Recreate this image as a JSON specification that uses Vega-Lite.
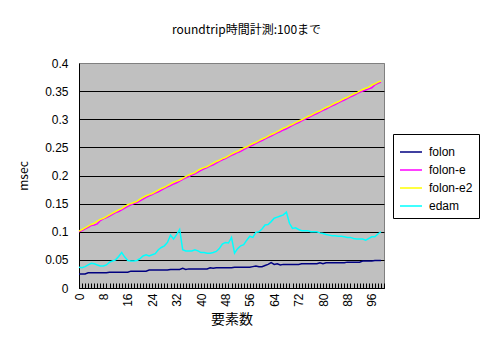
{
"$schema": "https://vega.github.io/schema/vega-lite/v6.json",
"autosize": "none",
"width": 305,
"height": 225,
"padding": {"left": 79, "top": 63, "right": 112, "bottom": 68},
"background": "white",
"config": {"font": "Noto Sans CJK JP", "view": {"fill": "#C0C0C0", "stroke": "#808080"}},
"title": {"text": "roundtrip時間計測:100まで", "fontSize": 12, "fontWeight": "normal", "anchor": "middle", "offset": 20, "dx": 15, "color": "black", "font": "Noto Sans CJK JP"},
"data": {"values": [
{"n":0,"folon":0.025,"folon-e":0.100,"folon-e2":0.101,"edam":0.037},
{"n":1,"folon":0.025,"folon-e":0.102,"folon-e2":0.104,"edam":0.036},
{"n":2,"folon":0.025,"folon-e":0.105,"folon-e2":0.107,"edam":0.038},
{"n":3,"folon":0.027,"folon-e":0.108,"folon-e2":0.110,"edam":0.041},
{"n":4,"folon":0.027,"folon-e":0.111,"folon-e2":0.113,"edam":0.044},
{"n":5,"folon":0.027,"folon-e":0.112,"folon-e2":0.115,"edam":0.043},
{"n":6,"folon":0.027,"folon-e":0.114,"folon-e2":0.119,"edam":0.041},
{"n":7,"folon":0.027,"folon-e":0.120,"folon-e2":0.122,"edam":0.039},
{"n":8,"folon":0.027,"folon-e":0.123,"folon-e2":0.124,"edam":0.039},
{"n":9,"folon":0.027,"folon-e":0.125,"folon-e2":0.127,"edam":0.041},
{"n":10,"folon":0.028,"folon-e":0.128,"folon-e2":0.130,"edam":0.046},
{"n":11,"folon":0.028,"folon-e":0.131,"folon-e2":0.133,"edam":0.048},
{"n":12,"folon":0.028,"folon-e":0.134,"folon-e2":0.136,"edam":0.050},
{"n":13,"folon":0.028,"folon-e":0.136,"folon-e2":0.139,"edam":0.056},
{"n":14,"folon":0.028,"folon-e":0.139,"folon-e2":0.141,"edam":0.063},
{"n":15,"folon":0.028,"folon-e":0.142,"folon-e2":0.145,"edam":0.055},
{"n":16,"folon":0.028,"folon-e":0.145,"folon-e2":0.148,"edam":0.049},
{"n":17,"folon":0.030,"folon-e":0.148,"folon-e2":0.150,"edam":0.048},
{"n":18,"folon":0.030,"folon-e":0.150,"folon-e2":0.152,"edam":0.048},
{"n":19,"folon":0.030,"folon-e":0.152,"folon-e2":0.154,"edam":0.049},
{"n":20,"folon":0.030,"folon-e":0.155,"folon-e2":0.158,"edam":0.052},
{"n":21,"folon":0.030,"folon-e":0.158,"folon-e2":0.161,"edam":0.057},
{"n":22,"folon":0.030,"folon-e":0.161,"folon-e2":0.164,"edam":0.059},
{"n":23,"folon":0.032,"folon-e":0.164,"folon-e2":0.166,"edam":0.057},
{"n":24,"folon":0.032,"folon-e":0.166,"folon-e2":0.168,"edam":0.059},
{"n":25,"folon":0.032,"folon-e":0.169,"folon-e2":0.171,"edam":0.061},
{"n":26,"folon":0.032,"folon-e":0.171,"folon-e2":0.174,"edam":0.068},
{"n":27,"folon":0.032,"folon-e":0.174,"folon-e2":0.177,"edam":0.072},
{"n":28,"folon":0.032,"folon-e":0.177,"folon-e2":0.179,"edam":0.075},
{"n":29,"folon":0.032,"folon-e":0.180,"folon-e2":0.182,"edam":0.081},
{"n":30,"folon":0.033,"folon-e":0.182,"folon-e2":0.185,"edam":0.094},
{"n":31,"folon":0.033,"folon-e":0.185,"folon-e2":0.188,"edam":0.087},
{"n":32,"folon":0.033,"folon-e":0.187,"folon-e2":0.190,"edam":0.095},
{"n":33,"folon":0.033,"folon-e":0.190,"folon-e2":0.192,"edam":0.104},
{"n":34,"folon":0.035,"folon-e":0.193,"folon-e2":0.195,"edam":0.068},
{"n":35,"folon":0.033,"folon-e":0.196,"folon-e2":0.198,"edam":0.066},
{"n":36,"folon":0.034,"folon-e":0.198,"folon-e2":0.201,"edam":0.066},
{"n":37,"folon":0.034,"folon-e":0.201,"folon-e2":0.203,"edam":0.066},
{"n":38,"folon":0.034,"folon-e":0.203,"folon-e2":0.205,"edam":0.068},
{"n":39,"folon":0.034,"folon-e":0.206,"folon-e2":0.209,"edam":0.066},
{"n":40,"folon":0.034,"folon-e":0.209,"folon-e2":0.212,"edam":0.063},
{"n":41,"folon":0.034,"folon-e":0.212,"folon-e2":0.214,"edam":0.063},
{"n":42,"folon":0.034,"folon-e":0.214,"folon-e2":0.216,"edam":0.062},
{"n":43,"folon":0.036,"folon-e":0.217,"folon-e2":0.219,"edam":0.062},
{"n":44,"folon":0.035,"folon-e":0.219,"folon-e2":0.222,"edam":0.063},
{"n":45,"folon":0.036,"folon-e":0.222,"folon-e2":0.225,"edam":0.065},
{"n":46,"folon":0.036,"folon-e":0.225,"folon-e2":0.227,"edam":0.070},
{"n":47,"folon":0.036,"folon-e":0.228,"folon-e2":0.230,"edam":0.078},
{"n":48,"folon":0.036,"folon-e":0.230,"folon-e2":0.232,"edam":0.081},
{"n":49,"folon":0.036,"folon-e":0.233,"folon-e2":0.235,"edam":0.080},
{"n":50,"folon":0.036,"folon-e":0.236,"folon-e2":0.238,"edam":0.090},
{"n":51,"folon":0.037,"folon-e":0.238,"folon-e2":0.241,"edam":0.062},
{"n":52,"folon":0.037,"folon-e":0.241,"folon-e2":0.243,"edam":0.070},
{"n":53,"folon":0.037,"folon-e":0.243,"folon-e2":0.246,"edam":0.075},
{"n":54,"folon":0.037,"folon-e":0.246,"folon-e2":0.249,"edam":0.077},
{"n":55,"folon":0.037,"folon-e":0.249,"folon-e2":0.251,"edam":0.085},
{"n":56,"folon":0.037,"folon-e":0.252,"folon-e2":0.254,"edam":0.092},
{"n":57,"folon":0.038,"folon-e":0.254,"folon-e2":0.257,"edam":0.090},
{"n":58,"folon":0.039,"folon-e":0.257,"folon-e2":0.259,"edam":0.099},
{"n":59,"folon":0.038,"folon-e":0.260,"folon-e2":0.262,"edam":0.100},
{"n":60,"folon":0.038,"folon-e":0.262,"folon-e2":0.265,"edam":0.105},
{"n":61,"folon":0.040,"folon-e":0.265,"folon-e2":0.267,"edam":0.112},
{"n":62,"folon":0.042,"folon-e":0.268,"folon-e2":0.270,"edam":0.113},
{"n":63,"folon":0.045,"folon-e":0.270,"folon-e2":0.273,"edam":0.118},
{"n":64,"folon":0.042,"folon-e":0.273,"folon-e2":0.275,"edam":0.124},
{"n":65,"folon":0.043,"folon-e":0.276,"folon-e2":0.278,"edam":0.126},
{"n":66,"folon":0.041,"folon-e":0.278,"folon-e2":0.281,"edam":0.128},
{"n":67,"folon":0.042,"folon-e":0.281,"folon-e2":0.284,"edam":0.130},
{"n":68,"folon":0.042,"folon-e":0.283,"folon-e2":0.286,"edam":0.135},
{"n":69,"folon":0.042,"folon-e":0.286,"folon-e2":0.289,"edam":0.115},
{"n":70,"folon":0.042,"folon-e":0.289,"folon-e2":0.291,"edam":0.106},
{"n":71,"folon":0.042,"folon-e":0.292,"folon-e2":0.294,"edam":0.107},
{"n":72,"folon":0.042,"folon-e":0.294,"folon-e2":0.297,"edam":0.104},
{"n":73,"folon":0.043,"folon-e":0.297,"folon-e2":0.299,"edam":0.102},
{"n":74,"folon":0.043,"folon-e":0.300,"folon-e2":0.302,"edam":0.102},
{"n":75,"folon":0.043,"folon-e":0.302,"folon-e2":0.305,"edam":0.102},
{"n":76,"folon":0.043,"folon-e":0.305,"folon-e2":0.307,"edam":0.100},
{"n":77,"folon":0.043,"folon-e":0.308,"folon-e2":0.310,"edam":0.100},
{"n":78,"folon":0.043,"folon-e":0.310,"folon-e2":0.313,"edam":0.100},
{"n":79,"folon":0.045,"folon-e":0.313,"folon-e2":0.315,"edam":0.098},
{"n":80,"folon":0.043,"folon-e":0.316,"folon-e2":0.318,"edam":0.097},
{"n":81,"folon":0.045,"folon-e":0.318,"folon-e2":0.321,"edam":0.095},
{"n":82,"folon":0.045,"folon-e":0.321,"folon-e2":0.323,"edam":0.094},
{"n":83,"folon":0.045,"folon-e":0.324,"folon-e2":0.326,"edam":0.093},
{"n":84,"folon":0.045,"folon-e":0.326,"folon-e2":0.329,"edam":0.093},
{"n":85,"folon":0.045,"folon-e":0.329,"folon-e2":0.331,"edam":0.092},
{"n":86,"folon":0.045,"folon-e":0.332,"folon-e2":0.334,"edam":0.092},
{"n":87,"folon":0.045,"folon-e":0.334,"folon-e2":0.337,"edam":0.091},
{"n":88,"folon":0.046,"folon-e":0.337,"folon-e2":0.339,"edam":0.090},
{"n":89,"folon":0.046,"folon-e":0.340,"folon-e2":0.342,"edam":0.090},
{"n":90,"folon":0.046,"folon-e":0.342,"folon-e2":0.345,"edam":0.088},
{"n":91,"folon":0.046,"folon-e":0.345,"folon-e2":0.347,"edam":0.087},
{"n":92,"folon":0.046,"folon-e":0.348,"folon-e2":0.350,"edam":0.087},
{"n":93,"folon":0.048,"folon-e":0.350,"folon-e2":0.353,"edam":0.087},
{"n":94,"folon":0.048,"folon-e":0.352,"folon-e2":0.355,"edam":0.085},
{"n":95,"folon":0.048,"folon-e":0.354,"folon-e2":0.357,"edam":0.088},
{"n":96,"folon":0.048,"folon-e":0.356,"folon-e2":0.361,"edam":0.091},
{"n":97,"folon":0.049,"folon-e":0.361,"folon-e2":0.363,"edam":0.091},
{"n":98,"folon":0.049,"folon-e":0.364,"folon-e2":0.366,"edam":0.096},
{"n":99,"folon":0.049,"folon-e":0.366,"folon-e2":0.368,"edam":0.100}
]},
"transform": [{"fold": ["folon", "folon-e", "folon-e2", "edam"], "as": ["series", "msec"]}],
"mark": {"type": "line", "strokeWidth": 1.5},
"encoding": {
  "x": {"field": "n", "type": "quantitative", "scale": {"domain": [0, 100], "nice": false, "zero": false},
    "axis": {"title": "要素数", "titleFontSize": 14, "titleFontWeight": "normal", "titleColor": "black", "titlePadding": 6,
      "tickCount": 100, "labelExpr": "datum.value % 8 == 0 && datum.value < 100 ? datum.label : ''",
      "labelAngle": 270, "labelFontSize": 12, "labelColor": "black", "labelFont": "Liberation Sans", "labelOverlap": false, "labelFlush": false,
      "grid": false, "tickSize": -5, "tickColor": "black", "domainColor": "black", "labelPadding": 10}},
  "y": {"field": "msec", "type": "quantitative", "scale": {"domain": [0, 0.4], "nice": false},
    "axis": {"title": "msec", "titleFontSize": 12, "titleFontWeight": "normal", "titleColor": "black", "titlePadding": 14,
      "values": [0, 0.05, 0.1, 0.15, 0.2, 0.25, 0.3, 0.35, 0.4], "format": "~g",
      "grid": true, "gridColor": {"condition": {"test": "datum.value >= 0.4", "value": "#808080"}, "value": "black"}, "gridOpacity": 1, "gridWidth": 1,
      "ticks": false, "labelPadding": 11, "labelFontSize": 12, "labelColor": "black", "labelFont": "Liberation Sans", "domainColor": "black"}},
  "color": {"field": "series", "type": "nominal",
    "scale": {"domain": ["folon", "folon-e", "folon-e2", "edam"], "range": ["#000080", "#FF00FF", "#FFFF00", "#00FFFF"]},
    "legend": {"orient": "none", "legendX": 314, "legendY": 71, "title": null, "symbolType": "stroke", "symbolSize": 484, "symbolStrokeWidth": 1.5,
      "strokeColor": "black", "fillColor": "white", "padding": 6, "labelFontSize": 12, "labelColor": "black", "labelFont": "Liberation Sans", "rowPadding": 0, "labelOffset": 6}}
}
}
